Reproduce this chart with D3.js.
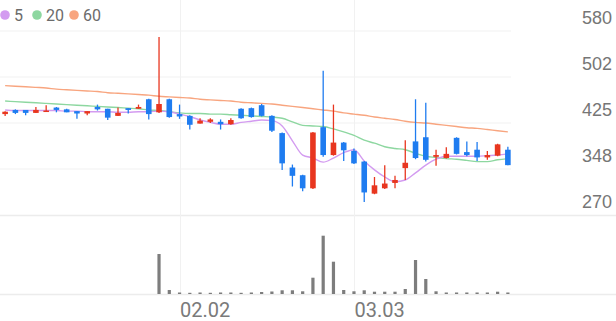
<!DOCTYPE html>
<html>
<head>
  <meta charset="utf-8">
  <script src="https://d3js.org/d3.v7.min.js"></script>
  <style>
    html, body {
      margin: 0;
      padding: 0;
      background: #fff;
    }
    svg {
      display: block;
      font-family: Roboto, "Noto Sans", sans-serif;
    }
  </style>
</head>
<body>
  <script type="text/javascript">
    // trading days shown on the chart
    var dates = ["01.08","01.11","01.12","01.13","01.14","01.15","01.18","01.19","01.20","01.21",
                 "01.22","01.25","01.26","01.27","01.28","01.29","02.01","02.02","02.03","02.04",
                 "02.05","02.08","02.09","02.10","02.15","02.16","02.17","02.18","02.19","02.22",
                 "02.23","02.24","02.25","02.26","03.03","03.04","03.05","03.08","03.09","03.10",
                 "03.11","03.12","03.15","03.16","03.17","03.18","03.19","03.22","03.23","03.24"];

    var open  = [440,447,447,442,445,451,448,445,441,452,449,437,450,449,465,443,465,440,437,424,
                 427,427,423,449,450,455,437,408,350,337,315,418,371,392,378,360,306,315,324,349,
                 394,401,368,366,400,376,380,367,370,380];
    var high  = [445,448,447,452,455,452,449,445,445,456,449,451,450,456,466,570,466,456,438,433,
                 433,431,433,450,451,457,438,409,355,338,410,513,456,393,382,361,334,354,336,396,
                 465,459,380,384,401,394,393,378,390,385];
    var low   = [437,440,438,442,445,443,443,432,438,446,430,437,441,449,431,442,434,432,414,424,
                 425,414,422,432,434,436,410,346,318,310,314,368,370,361,356,292,305,314,315,329,
                 364,360,353,365,372,369,361,363,369,354];
    var close = [444,442,442,447,446,447,443,441,445,448,434,442,447,452,440,457,435,436,422,429,
                 431,423,430,433,435,437,412,357,336,315,409,371,392,379,357,308,320,323,329,358,
                 366,363,371,373,373,371,367,371,389,354];
    var volume = [0,0,0,0,0,0,0,0,0,0,0,0,0,0,0,400,40,15,12,15,
                  12,15,15,12,15,20,25,37,37,27,163,583,323,40,27,37,23,23,23,50,
                  340,150,27,15,15,15,15,15,23,15];

    // moving averages
    var ma5  = [447,446,446,446,446,446,445,445,444,444,444,443,443,444,444,445,444,440,436,430,
                426,423,423,426,428,430,429,420,395,371,366,359,366,375,380,361,346,334,326,329,
                341,354,364,369,369,369,369,370,371,373];
    var ma20 = [462,461,460,459,458,457,456,455,454,453,452,451,450,449,447,446,444,442,441,441,
                440,440,439,438,437,436,435,433,427,421,420,419,415,410,404,396,391,385,382,380,
                374,369,367,365,364,362,360,360,363,365];
    var ma60 = [488,487,486,485,484,482,481,480,479,478,476,475,474,473,472,470,469,468,467,465,
                464,463,462,460,459,458,457,455,453,451,449,447,445,442,440,438,435,433,431,428,
                426,425,423,421,419,417,416,414,412,410];

    var yTicks = [580, 502.5, 425, 347.5, 270];
    var yTickLabels = ["580", "502", "425", "348", "270"];
    var xTickLabels = ["02.02", "03.03"];

    var legend = [
      {name: "5", color: "#d39bf0"},
      {name: "20", color: "#8dd7a0"},
      {name: "60", color: "#f8a57f"}
    ];

    function draw() {
      "use strict";
      var width = 616,
          height = 321,
          plotRight = 511,
          priceTop = 31,
          priceBottom = 215,
          volBottom = 294;

      var up = "#e8361f",
          down = "#1f7cf0";

      var svg = d3.select("body")
          .append("svg")
          .attr("width", width)
          .attr("height", height);

      var x = d3.scaleBand()
          .domain(d3.range(dates.length))
          .range([0, 513]);

      var y = d3.scaleLinear()
          .domain([270, 580])
          .range([priceBottom, priceTop]);

      var yVol = d3.scaleLinear()
          .domain([0, d3.max(volume) * 1.355])
          .range([volBottom, priceBottom]);

      var cx = function (i) { return x(i) + x.bandwidth() / 2; };

      // grid
      svg.append("g")
          .selectAll("line")
          .data(yTicks.slice(0, 4))
          .enter()
          .append("line")
          .attr("x1", 0)
          .attr("x2", plotRight)
          .attr("y1", function (d) { return y(d); })
          .attr("y2", function (d) { return y(d); })
          .style("stroke", "#f1f1f1")
          .style("stroke-width", 1);

      svg.selectAll(".sep")
          .data([priceBottom, volBottom])
          .enter()
          .append("line")
          .attr("x1", 0)
          .attr("x2", width)
          .attr("y1", function (d) { return d + 0.5; })
          .attr("y2", function (d) { return d + 0.5; })
          .style("stroke", "#ececec")
          .style("stroke-width", 1.5);

      var tickIdx = xTickLabels.map(function (l) { return dates.indexOf(l); });

      svg.append("g")
          .selectAll("line")
          .data(tickIdx)
          .enter()
          .append("line")
          .attr("x1", function (d) { return Math.round(cx(d)) + 0.5; })
          .attr("x2", function (d) { return Math.round(cx(d)) + 0.5; })
          .attr("y1", 0)
          .attr("y2", volBottom)
          .style("stroke", "#f1f1f1");

      // price axis on the right, labels sit above their grid line
      var yAxis = svg.append("g")
          .attr("transform", "translate(612,0)")
          .call(d3.axisLeft(y)
              .tickValues(yTicks)
              .tickSize(0)
              .tickPadding(0)
              .tickFormat(function (d, i) { return yTickLabels[i]; }));
      yAxis.select(".domain").remove();
      yAxis.selectAll("text")
          .attr("dy", "-0.42em")
          .style("font-size", "18px")
          .style("fill", "#767676");

      // date labels
      svg.selectAll(".xlabel")
          .data(tickIdx)
          .enter()
          .append("text")
          .attr("x", function (d) { return cx(d) + 0.5; })
          .attr("y", 317)
          .style("font-size", "20px")
          .style("fill", "#7a7a7a")
          .text(function (d) { return dates[d]; });

      // volume bars
      svg.append("g")
          .selectAll("rect")
          .data(volume)
          .enter()
          .append("rect")
          .attr("x", function (d, i) { return cx(i) - 1.6; })
          .attr("width", 3.2)
          .attr("y", function (d) { return yVol(d); })
          .attr("height", function (d) { return volBottom - yVol(d); })
          .style("fill", "#7d7d7d");

      // moving average lines
      var line = d3.line()
          .x(function (d, i) { return cx(i); })
          .y(function (d) { return y(d); })
          .curve(d3.curveMonotoneX);

      [ma60, ma20, ma5].forEach(function (s, k) {
        svg.append("path")
            .datum(s)
            .attr("d", line)
            .style("fill", "none")
            .style("stroke", legend[2 - k].color)
            .style("stroke-width", 1.4);
      });

      // candles
      var candles = svg.append("g")
          .selectAll("g")
          .data(d3.range(dates.length))
          .enter()
          .append("g");

      var colorOf = function (i) { return close[i] >= open[i] ? up : down; };

      candles.append("line")
          .attr("x1", function (i) { return cx(i); })
          .attr("x2", function (i) { return cx(i); })
          .attr("y1", function (i) { return y(high[i]); })
          .attr("y2", function (i) { return y(low[i]); })
          .style("stroke", colorOf)
          .style("stroke-width", 1.3);

      candles.append("rect")
          .attr("x", function (i) { return cx(i) - 2.8; })
          .attr("width", 5.6)
          .attr("y", function (i) { return y(Math.max(open[i], close[i])); })
          .attr("height", function (i) {
            return Math.max(1.5, Math.abs(y(open[i]) - y(close[i])));
          })
          .style("fill", colorOf);

      // legend
      var lg = svg.append("g")
          .selectAll("g")
          .data(legend)
          .enter()
          .append("g")
          .attr("transform", function (d, i) { return "translate(" + [5, 37, 74][i] + ",15)"; });

      lg.append("circle")
          .attr("r", 4.8)
          .style("fill", function (d) { return d.color; });

      lg.append("text")
          .attr("x", 9)
          .attr("y", 6)
          .style("font-size", "16px")
          .style("fill", "#6b6b6b")
          .text(function (d) { return d.name; });
    }

    draw();
  </script>
</body>
</html>
